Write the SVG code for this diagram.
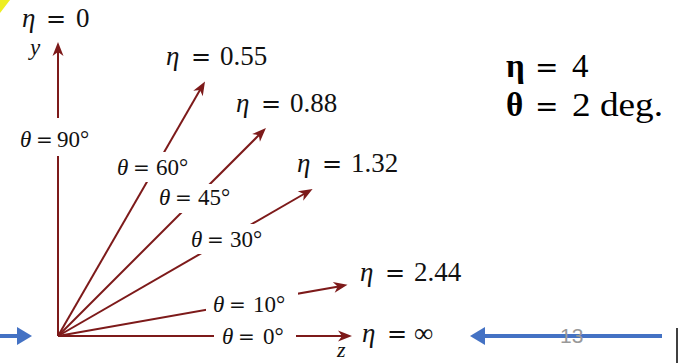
<svg xmlns="http://www.w3.org/2000/svg" width="678" height="363" viewBox="0 0 678 363">
<style>
.ax{stroke:#7d1a1a;stroke-width:2;fill:none;marker-end:url(#ah)}
.lbl{font-family:"Liberation Serif","DejaVu Serif",serif;fill:#111}
.eta{font-size:27px}
.th{font-size:23px}
.it{font-style:italic}
.eq{font-family:"DejaVu Serif",serif}
.gap{fill:#fff}
.big{font-family:"Liberation Serif","DejaVu Serif",serif;font-size:33px;fill:#000}
.blue{stroke:#4472c4;stroke-width:4}
</style>
<defs>
<marker id="ah" markerUnits="userSpaceOnUse" viewBox="-9 -7 16 14" markerWidth="16" markerHeight="14" refX="0" refY="0" orient="auto">
<path d="M-8,-5.5 L6,0 L-8,5.5 L-4,0 z" fill="#7d1a1a"/>
</marker>
</defs>
<rect width="678" height="363" fill="#fff"/>
<polygon points="0,0 10,0 0,13" fill="#eeee22"/>
<g id="connectors">
<line class="ax" x1="58" y1="336" x2="58" y2="48"/>
<line class="ax" x1="58" y1="336" x2="202" y2="86.6"/>
<line class="ax" x1="58" y1="336" x2="261.7" y2="132.3"/>
<line class="ax" x1="58" y1="336" x2="307.4" y2="192"/>
<line class="ax" x1="58" y1="336" x2="341.6" y2="285.9"/>
<line class="ax" x1="58" y1="336" x2="346" y2="336"/>
<line class="blue" x1="0" y1="336" x2="18" y2="336"/>
<polygon points="17,327 32,336 17,345" fill="#4472c4"/>
<line class="blue" x1="662" y1="336" x2="484" y2="336"/>
<polygon points="485,327 470,336 485,345" fill="#4472c4"/>
<line x1="677" y1="328" x2="677" y2="363" stroke="#000" stroke-width="1.5"/>
</g>
<g id="theta90"><rect class="gap" x="16" y="118" width="80" height="38"/><text class="lbl th" y="147"><tspan class="it" x="20">θ</tspan><tspan class="eq" x="36" font-size="20">=</tspan><tspan x="57">90°</tspan></text></g>
<g id="theta60"><rect class="gap" x="113" y="152" width="82" height="30"/><text class="lbl th" y="175"><tspan class="it" x="117">θ</tspan><tspan class="eq" x="133" font-size="20">=</tspan><tspan x="156">60°</tspan></text></g>
<g id="theta45"><rect class="gap" x="155" y="184" width="82" height="29"/><text class="lbl th" y="205"><tspan class="it" x="159">θ</tspan><tspan class="eq" x="175" font-size="20">=</tspan><tspan x="198">45°</tspan></text></g>
<g id="theta30"><rect class="gap" x="187" y="224" width="82" height="30"/><text class="lbl th" y="247"><tspan class="it" x="191">θ</tspan><tspan class="eq" x="207" font-size="20">=</tspan><tspan x="230">30°</tspan></text></g>
<g id="theta10"><rect class="gap" x="206" y="292" width="92" height="24"/><text class="lbl th" y="312"><tspan class="it" x="213">θ</tspan><tspan class="eq" x="229" font-size="20">=</tspan><tspan x="253">10°</tspan></text></g>
<g id="theta0"><rect class="gap" x="214" y="326" width="82" height="22"/><text class="lbl th" y="344"><tspan class="it" x="222">θ</tspan><tspan class="eq" x="238" font-size="20">=</tspan><tspan x="263">0°</tspan></text></g>
<g id="eta0"><text class="lbl eta" y="27"><tspan class="it" x="22">η</tspan><tspan class="eq" x="46" font-size="24">=</tspan><tspan x="76">0</tspan></text></g>
<g id="eta055"><text class="lbl eta" y="65"><tspan class="it" x="166">η</tspan><tspan class="eq" x="191" font-size="24">=</tspan><tspan x="220">0.55</tspan></text></g>
<g id="eta088"><text class="lbl eta" y="112"><tspan class="it" x="236">η</tspan><tspan class="eq" x="261" font-size="24">=</tspan><tspan x="290">0.88</tspan></text></g>
<g id="eta132"><text class="lbl eta" y="172"><tspan class="it" x="297">η</tspan><tspan class="eq" x="322" font-size="24">=</tspan><tspan x="351">1.32</tspan></text></g>
<g id="eta244"><text class="lbl eta" y="281"><tspan class="it" x="360">η</tspan><tspan class="eq" x="385" font-size="24">=</tspan><tspan x="414">2.44</tspan></text></g>
<g id="etainf"><text class="lbl eta" y="342"><tspan class="it" x="362">η</tspan><tspan class="eq" x="387" font-size="24">=</tspan><tspan x="414">∞</tspan></text></g>
<g id="yaxis"><text class="lbl it" x="30" y="55" font-size="23">y</text></g>
<g id="zaxis"><text class="lbl it" x="337" y="357" font-size="22">z</text></g>
<g id="params">
<text class="big" y="77"><tspan font-weight="bold" x="506">η</tspan><tspan class="eq" x="535" font-size="28">=</tspan><tspan x="572">4</tspan></text>
<text class="big" y="116"><tspan font-weight="bold" x="506">θ</tspan><tspan class="eq" x="535" font-size="28">=</tspan><tspan x="572" textLength="91" lengthAdjust="spacingAndGlyphs">2 deg.</tspan></text>
</g>
<g id="pagenum"><text x="560" y="343" font-family="Liberation Sans, Arial, sans-serif" font-size="21" fill="#999">13</text></g>
</svg>
